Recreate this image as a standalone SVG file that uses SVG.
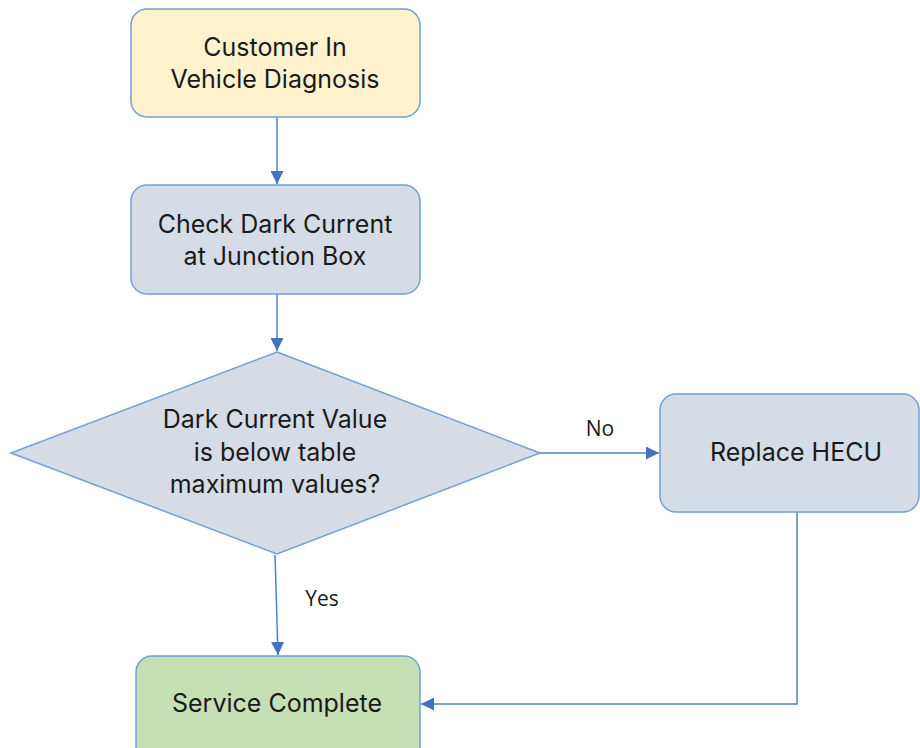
<svg xmlns="http://www.w3.org/2000/svg" width="920" height="748" viewBox="0 0 920 748">
<style>
.node{stroke:#6fa0d8;stroke-width:1.5}
.t{font-family:Inter,"Noto Sans",sans-serif;font-size:25px;fill:#1a1a1a;text-anchor:middle}
.lbl{font-family:"Open Sans","Noto Sans",sans-serif;font-size:21px;fill:#1a1a1a;text-anchor:middle}
.c{stroke:#4f7fc9;stroke-width:1.5;fill:none}
</style>
<defs>
<marker id="ah" viewBox="0 0 10 10" refX="10" refY="5" markerWidth="13" markerHeight="13" markerUnits="userSpaceOnUse" orient="auto">
<path d="M0,0 L10,5 L0,10 z" fill="#4472c4"/>
</marker>
</defs>
<rect width="920" height="748" fill="#ffffff"/>
<g id="connectors">
<line class="c" x1="277" y1="117" x2="277" y2="184" marker-end="url(#ah)"/>
<line class="c" x1="277" y1="294" x2="277" y2="351" marker-end="url(#ah)"/>
<line class="c" x1="540" y1="453" x2="659" y2="453" marker-end="url(#ah)"/>
<line class="c" x1="275" y1="555" x2="278" y2="655" marker-end="url(#ah)"/>
<polyline class="c" points="797,512 797,704 421,704" marker-end="url(#ah)"/>
<text class="lbl" x="600" y="436">No</text>
<text class="lbl" x="322" y="606">Yes</text>
</g>
<g id="n1">
<rect class="node" x="131" y="9" width="289" height="108" rx="16" fill="#fff2cc"/>
<text class="t" x="275" y="56">Customer In</text>
<text class="t" x="275" y="88">Vehicle Diagnosis</text>
</g>
<g id="n2">
<rect class="node" x="131" y="185" width="289" height="109" rx="16" fill="#d6dce5"/>
<text class="t" x="275" y="233">Check Dark Current</text>
<text class="t" x="275" y="265">at Junction Box</text>
</g>
<g id="n3">
<polygon class="node" points="277,352 540,453 277,554 11,453" fill="#d6dce5"/>
<text class="t" x="275" y="428">Dark Current Value</text>
<text class="t" x="275" y="461">is below table</text>
<text class="t" x="275" y="493">maximum values?</text>
</g>
<g id="n4">
<rect class="node" x="660" y="394" width="259" height="118" rx="16" fill="#d6dce5"/>
<text class="t" x="796" y="461">Replace HECU</text>
</g>
<g id="n5">
<rect class="node" x="136" y="656" width="284" height="110" rx="16" fill="#c5e0b4"/>
<text class="t" x="277" y="712">Service Complete</text>
</g>
</svg>
